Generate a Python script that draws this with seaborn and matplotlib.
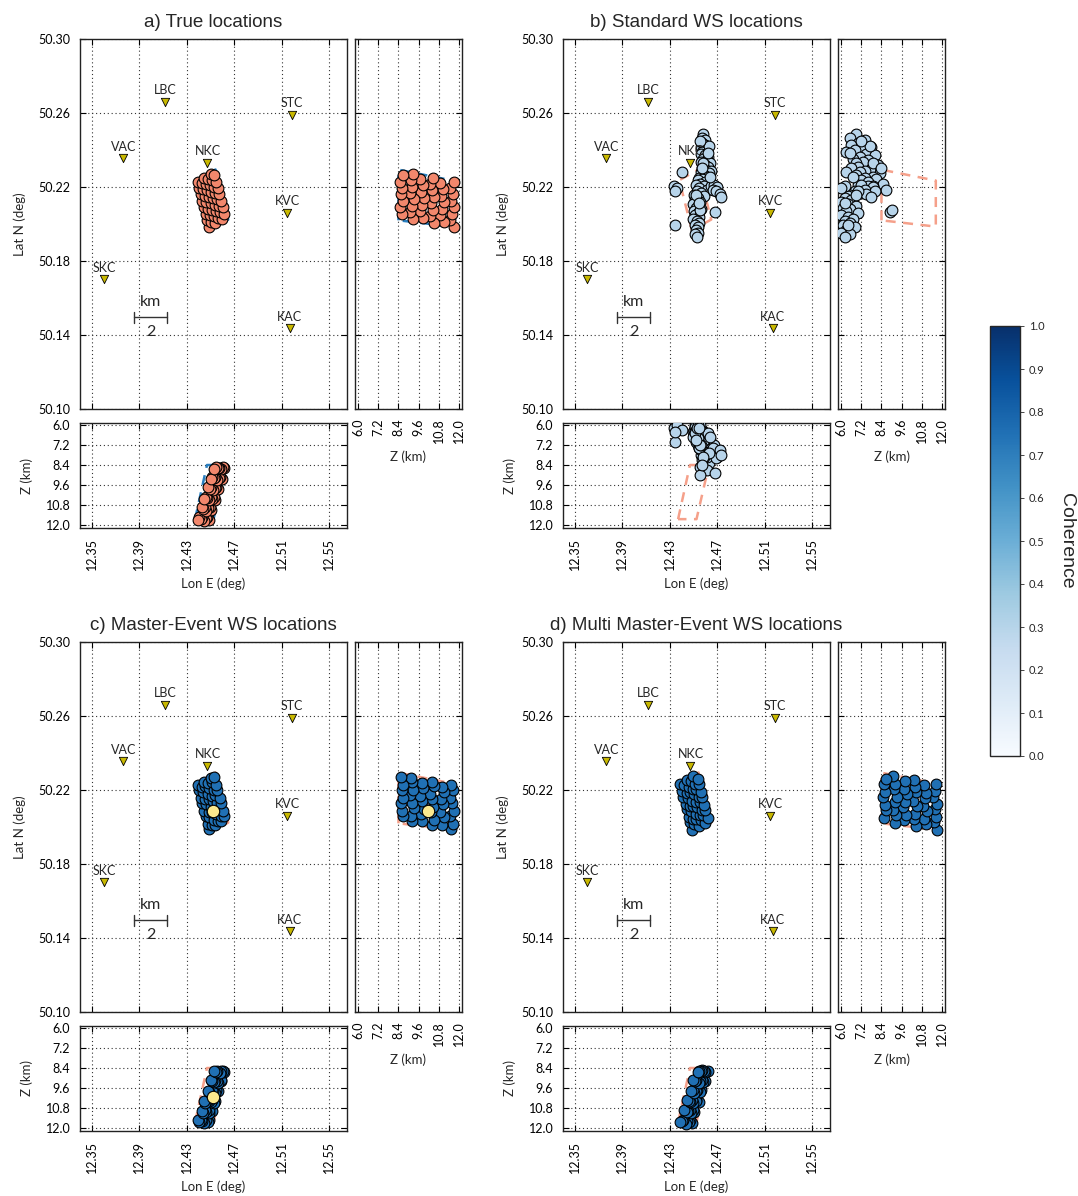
import pandas as pd
import seaborn as sns
import matplotlib.pyplot as plt
from matplotlib.ticker import FormatStrFormatter
from matplotlib.cm import ScalarMappable
from matplotlib.colors import Normalize

# ---- stations ----
station_names = ["LBC", "STC", "VAC", "NKC", "KVC", "SKC", "KAC"]
station_lon = [12.4118, 12.5185, 12.3766, 12.4474, 12.5148, 12.3604, 12.5165]
station_lat = [50.2662, 50.2591, 50.2357, 50.2333, 50.2062, 50.1702, 50.1437]

# ---- true source volume outline (map, Z-lat, lon-Z) ----
box_map_lon = [12.4486, 12.4380, 12.4542, 12.4649, 12.4486]
box_map_lat = [50.1968, 50.2238, 50.2296, 50.2025, 50.1968]
box_side_z = [8.4, 8.4, 11.65, 11.65, 8.4]
box_side_lat = [50.2021, 50.2295, 50.2236, 50.1987, 50.2021]
box_bot_lon = [12.4370, 12.4470, 12.4630, 12.4525, 12.4370]
box_bot_z = [11.65, 8.4, 8.4, 11.65, 11.65]

# ---- a) true locations ----
true_lon = [12.4487, 12.4473, 12.4460, 12.4446, 12.4432, 12.4418, 12.4404, 12.4392,
            12.4508, 12.4494, 12.4480, 12.4466, 12.4453, 12.4439, 12.4425,
            12.4541, 12.4527, 12.4514, 12.4500, 12.4486, 12.4472, 12.4459, 12.4446,
            12.4562, 12.4548, 12.4534, 12.4520, 12.4507, 12.4493, 12.4479,
            12.4595, 12.4581, 12.4568, 12.4554, 12.4540, 12.4526, 12.4513, 12.4500,
            12.4616, 12.4602, 12.4588, 12.4574, 12.4561, 12.4547, 12.4533]
true_lat = [50.1987, 50.2022, 50.2057, 50.2092, 50.2128, 50.2163, 50.2198, 50.2230,
            50.2014, 50.2049, 50.2084, 50.2119, 50.2154, 50.2189, 50.2224,
            50.2008, 50.2043, 50.2078, 50.2113, 50.2148, 50.2184, 50.2219, 50.2251,
            50.2035, 50.2070, 50.2105, 50.2140, 50.2175, 50.2210, 50.2245,
            50.2029, 50.2064, 50.2099, 50.2134, 50.2169, 50.2204, 50.2240, 50.2272,
            50.2056, 50.2091, 50.2126, 50.2161, 50.2196, 50.2231, 50.2266]
true_z = [11.7, 11.5, 11.6, 11.75, 11.55, 11.65, 11.5, 11.7,
          11.1, 10.9, 11.0, 11.15, 10.95, 11.05, 10.9,
          10.5, 10.3, 10.45, 10.35, 10.5, 10.4, 10.3, 10.45,
          9.85, 9.7, 9.8, 9.9, 9.75, 9.85, 9.7,
          9.25, 9.1, 9.2, 9.3, 9.1, 9.2, 9.15, 9.25,
          8.6, 8.5, 8.65, 8.55, 8.6, 8.5, 8.65]

# ---- b) standard WS locations ----
std_lon = [12.4583, 12.4575, 12.4595, 12.4570, 12.4600, 12.4562, 12.4588, 12.4612,
           12.4575, 12.4560, 12.4598, 12.4625, 12.4582, 12.4610, 12.4565, 12.4640,
           12.4595, 12.4620, 12.4575, 12.4605, 12.4645, 12.4560, 12.4630, 12.4590,
           12.4615, 12.4548, 12.4575, 12.4535, 12.4600, 12.4555, 12.4520, 12.4585,
           12.4545, 12.4610, 12.4530, 12.4565, 12.4500, 12.4590, 12.4535, 12.4510,
           12.4555, 12.4495, 12.4540, 12.4520, 12.4560, 12.4500, 12.4535, 12.4515,
           12.4550, 12.4495, 12.4530, 12.4545, 12.4510, 12.4535, 12.4520, 12.4540,
           12.4515, 12.4530, 12.4650, 12.4675, 12.4700, 12.4665, 12.4690, 12.4720,
           12.4735, 12.4335, 12.4360, 12.4345, 12.4400, 12.4345, 12.4680, 12.4556,
           12.4630, 12.4555, 12.4620, 12.4580, 12.4640, 12.4568, 12.4522, 12.4548]
std_lat = [50.2490, 50.2465, 50.2455, 50.2440, 50.2430, 50.2418, 50.2410, 50.2400,
           50.2392, 50.2378, 50.2372, 50.2365, 50.2355, 50.2345, 50.2338, 50.2330,
           50.2322, 50.2312, 50.2305, 50.2295, 50.2290, 50.2285, 50.2275, 50.2268,
           50.2255, 50.2250, 50.2245, 50.2238, 50.2230, 50.2220, 50.2212, 50.2205,
           50.2195, 50.2185, 50.2178, 50.2168, 50.2160, 50.2150, 50.2140, 50.2130,
           50.2120, 50.2110, 50.2100, 50.2090, 50.2080, 50.2072, 50.2062, 50.2050,
           50.2040, 50.2030, 50.2020, 50.2005, 50.1995, 50.1985, 50.1970, 50.1955,
           50.1945, 50.1933, 50.2205, 50.2210, 50.2200, 50.2185, 50.2178, 50.2165,
           50.2145, 50.2205, 50.2195, 50.2178, 50.2284, 50.1996, 50.2068, 50.2078,
           50.2422, 50.2448, 50.2385, 50.2330, 50.2258, 50.2302, 50.2158, 50.2115]
std_z = [6.9, 6.5, 7.4, 7.0, 6.6, 7.8, 7.2, 6.8,
         6.3, 7.5, 8.0, 7.1, 6.7, 7.6, 7.3, 6.9,
         8.2, 7.0, 6.6, 7.7, 7.4, 7.1, 8.3, 6.9,
         7.9, 7.4, 8.1, 7.2, 7.6, 8.5, 7.0, 7.9,
         7.4, 8.7, 6.8, 7.2, 6.5, 6.4, 6.2, 6.6,
         6.0, 6.4, 6.9, 6.1, 6.5, 6.3, 7.0, 6.0,
         6.4, 6.7, 6.2, 6.5, 6.1, 6.8, 6.3, 6.0,
         6.5, 6.2, 7.6, 7.2, 7.9, 7.4, 8.0, 7.5,
         7.8, 6.2, 6.0, 7.0, 6.3, 6.4, 8.9, 9.0,
         7.7, 7.2, 6.5, 7.9, 6.7, 8.4, 6.9, 6.2]

# ---- c) master-event WS locations ----
me_lon = [12.4489, 12.4476, 12.4458, 12.4449, 12.4430, 12.4421, 12.4402, 12.4395,
          12.4511, 12.4491, 12.4483, 12.4463, 12.4456, 12.4436, 12.4428,
          12.4538, 12.4530, 12.4511, 12.4503, 12.4483, 12.4475, 12.4456, 12.4449,
          12.4565, 12.4545, 12.4537, 12.4517, 12.4510, 12.4490, 12.4482,
          12.4592, 12.4584, 12.4565, 12.4557, 12.4537, 12.4529, 12.4510, 12.4503,
          12.4612, 12.4605, 12.4585, 12.4577, 12.4558, 12.4550, 12.4530]
me_lat = [50.1992, 50.2018, 50.2061, 50.2088, 50.2131, 50.2159, 50.2202, 50.2226,
          50.2010, 50.2053, 50.2080, 50.2123, 50.2150, 50.2193, 50.2220,
          50.2012, 50.2039, 50.2082, 50.2109, 50.2152, 50.2180, 50.2223, 50.2247,
          50.2031, 50.2074, 50.2101, 50.2144, 50.2171, 50.2214, 50.2241,
          50.2033, 50.2060, 50.2103, 50.2130, 50.2173, 50.2200, 50.2244, 50.2268,
          50.2060, 50.2087, 50.2130, 50.2157, 50.2200, 50.2227, 50.2270]
me_z = [11.55, 11.65, 11.5, 11.7, 11.6, 11.5, 11.65, 11.55,
        11.0, 11.1, 10.9, 11.05, 10.95, 11.1, 11.0,
        10.4, 10.5, 10.35, 10.45, 10.4, 10.3, 10.5, 10.4,
        9.8, 9.75, 9.9, 9.8, 9.7, 9.85, 9.8,
        9.2, 9.15, 9.3, 9.2, 9.1, 9.25, 9.2, 9.15,
        8.65, 8.6, 8.55, 8.7, 8.6, 8.65, 8.55]
master_lon = [12.4520]
master_lat = [50.2088]
master_z = [10.15]

# ---- d) multi master-event WS locations ----
mme_lon = [12.4484, 12.4471, 12.4463, 12.4443, 12.4435, 12.4415, 12.4407, 12.4389,
           12.4505, 12.4497, 12.4477, 12.4469, 12.4450, 12.4442, 12.4422,
           12.4544, 12.4524, 12.4517, 12.4497, 12.4489, 12.4469, 12.4462, 12.4443,
           12.4559, 12.4551, 12.4531, 12.4523, 12.4504, 12.4496, 12.4476,
           12.4598, 12.4578, 12.4571, 12.4551, 12.4543, 12.4523, 12.4516, 12.4497,
           12.4619, 12.4599, 12.4591, 12.4571, 12.4564, 12.4544, 12.4536]
mme_lat = [50.1984, 50.2026, 50.2053, 50.2096, 50.2124, 50.2166, 50.2194, 50.2233,
           50.2018, 50.2045, 50.2088, 50.2115, 50.2158, 50.2185, 50.2228,
           50.2004, 50.2047, 50.2074, 50.2117, 50.2144, 50.2188, 50.2215, 50.2255,
           50.2039, 50.2066, 50.2109, 50.2136, 50.2179, 50.2206, 50.2249,
           50.2025, 50.2068, 50.2095, 50.2138, 50.2165, 50.2208, 50.2236, 50.2276,
           50.2052, 50.2095, 50.2122, 50.2165, 50.2192, 50.2235, 50.2262]
mme_z = [11.7, 11.55, 11.65, 11.6, 11.75, 11.5, 11.6, 11.65,
         11.05, 10.95, 11.1, 10.9, 11.0, 11.05, 10.95,
         10.45, 10.35, 10.4, 10.5, 10.3, 10.45, 10.4, 10.35,
         9.75, 9.85, 9.7, 9.8, 9.9, 9.75, 9.8,
         9.2, 9.25, 9.1, 9.2, 9.3, 9.15, 9.2, 9.1,
         8.55, 8.65, 8.6, 8.5, 8.6, 8.55, 8.65]

# mean coherence of each WS solution
coherence_std = 0.3
coherence_me = 0.75
coherence_mme = 0.75

# scale bar (2 km)
scalebar_lon = [12.3855, 12.4136]
scalebar_lat = 50.1497

lon_ticks = [12.35, 12.39, 12.43, 12.47, 12.51, 12.55]
lat_ticks = [50.10, 50.14, 50.18, 50.22, 50.26, 50.30]
z_ticks = [6.0, 7.2, 8.4, 9.6, 10.8, 12.0]

sns.set_style("ticks")
plt.rcParams['font.family'] = ['Lato', 'DejaVu Sans']

fig = plt.figure(figsize=(10.78, 11.96), dpi=100)
W, H = 1078.0, 1196.0


def px_axes(left, top, width, height):
    return fig.add_axes([left / W, 1 - (top + height) / H, width / W, height / H])


def style(ax):
    ax.set_axisbelow(True)
    ax.grid(True, color='#333333', linestyle=(0, (1, 2.5)), linewidth=0.8)
    ax.tick_params(direction='in', length=4, width=0.8, top=True, right=True,
                   labelsize=9, pad=7, colors='black')
    for s in ax.spines.values():
        s.set_linewidth(1.0)
        s.set_color('#222222')


def scatter(ax, x, y, color, s=60):
    sns.scatterplot(x=x, y=y, ax=ax, color=color, edgecolor='black', linewidth=0.8,
                    s=s, zorder=3, legend=False)


def draw_panel(dx, dy, title, ev_lon, ev_lat, ev_z, ev_color, box_color, master=None):
    ax_map = px_axes(80 + dx, 39.4 + dy, 267, 369.6)
    ax_side = px_axes(355 + dx, 39.4 + dy, 107, 369.6)
    ax_bot = px_axes(80 + dx, 422.7 + dy, 267, 105.6)

    # map view
    ax_map.plot(box_map_lon, box_map_lat, color=box_color, lw=1.8, ls=(0, (4, 3)), zorder=2)
    scatter(ax_map, ev_lon, ev_lat, ev_color)
    sns.scatterplot(x=station_lon, y=station_lat, ax=ax_map, marker='v', color='#c8b800',
                    edgecolor='black', linewidth=0.6, s=36, zorder=4, legend=False)
    for name, x, y in zip(station_names, station_lon, station_lat):
        ax_map.annotate(name, (x, y), xytext=(0, 4), textcoords='offset points',
                        ha='center', va='bottom', fontsize=9)
    ax_map.plot(scalebar_lon, [scalebar_lat] * 2, color='#333333', lw=1.0)
    for xb in scalebar_lon:
        ax_map.plot([xb, xb], [scalebar_lat - 0.003, scalebar_lat + 0.003], color='#333333', lw=1.0)
    xm = sum(scalebar_lon) / 2
    ax_map.text(xm, scalebar_lat + 0.0042, 'km', ha='center', va='bottom', fontsize=11.5)
    ax_map.text(xm, scalebar_lat - 0.0042, '2', ha='center', va='top', fontsize=11.5)
    if master is not None:
        scatter(ax_map, [master[0][0]], [master[1][0]], '#fce98e', s=80)
    ax_map.set_xlim(12.3401, 12.5649)
    ax_map.set_ylim(50.10, 50.30)
    ax_map.set_xticks(lon_ticks)
    ax_map.set_yticks(lat_ticks)
    ax_map.yaxis.set_major_formatter(FormatStrFormatter('%.2f'))
    style(ax_map)
    ax_map.tick_params(labelbottom=False)
    ax_map.set_xlabel('')
    ax_map.set_ylabel('Lat N (deg)', fontsize=9.5, labelpad=9)
    ax_map.set_title(title, fontsize=13.5, family=['Liberation Sans'], pad=9)

    # Z vs lat
    ax_side.plot(box_side_z, box_side_lat, color=box_color, lw=1.8, ls=(0, (4, 3)), zorder=2)
    scatter(ax_side, ev_z, ev_lat, ev_color)
    if master is not None:
        scatter(ax_side, [master[2][0]], [master[1][0]], '#fce98e', s=80)
    ax_side.set_xlim(5.8, 12.2)
    ax_side.set_ylim(50.10, 50.30)
    ax_side.set_xticks(z_ticks)
    ax_side.set_yticks(lat_ticks)
    ax_side.xaxis.set_major_formatter(FormatStrFormatter('%.1f'))
    style(ax_side)
    ax_side.tick_params(labelleft=False)
    ax_side.tick_params(axis='x', labelrotation=90)
    ax_side.set_ylabel('')
    ax_side.set_xlabel('Z (km)', fontsize=9.5, labelpad=5)

    # lon vs Z
    ax_bot.plot(box_bot_lon, box_bot_z, color=box_color, lw=1.8, ls=(0, (4, 3)), zorder=2)
    scatter(ax_bot, ev_lon, ev_z, ev_color)
    if master is not None:
        scatter(ax_bot, [master[0][0]], [master[2][0]], '#fce98e', s=80)
    ax_bot.set_xlim(12.3401, 12.5649)
    ax_bot.set_ylim(12.2, 5.86)
    ax_bot.set_xticks(lon_ticks)
    ax_bot.set_yticks(z_ticks)
    ax_bot.xaxis.set_major_formatter(FormatStrFormatter('%.2f'))
    ax_bot.yaxis.set_major_formatter(FormatStrFormatter('%.1f'))
    style(ax_bot)
    ax_bot.tick_params(axis='x', labelrotation=90)
    ax_bot.set_xlabel('Lon E (deg)', fontsize=9.5, labelpad=5)
    ax_bot.set_ylabel('Z (km)', fontsize=9.5, labelpad=9)


cmap = plt.cm.Blues
draw_panel(0, 0, 'a) True locations', true_lon, true_lat, true_z, '#f2876c', '#2a7fc0')
draw_panel(483, 0, 'b) Standard WS locations', std_lon, std_lat, std_z,
           cmap(coherence_std), '#f5a08a')
draw_panel(0, 603, 'c) Master-Event WS locations', me_lon, me_lat, me_z,
           cmap(coherence_me), '#f5a08a', master=(master_lon, master_lat, master_z))
draw_panel(483, 603, 'd) Multi Master-Event WS locations', mme_lon, mme_lat, mme_z,
           cmap(coherence_mme), '#f5a08a')

# colorbar
cax = px_axes(990, 326, 30, 430)
sm = ScalarMappable(norm=Normalize(0, 1), cmap='Blues')
cb = fig.colorbar(sm, cax=cax, ticks=[i / 10 for i in range(11)])
cb.ax.set_yticklabels(['%.1f' % (i / 10) for i in range(11)])
cb.ax.tick_params(labelsize=8, length=3, width=0.6)
cb.outline.set_linewidth(1.0)
cb.set_label('Coherence', rotation=270, fontsize=14, family=['Liberation Sans'], labelpad=22)

plt.savefig('out.png', dpi=100)
